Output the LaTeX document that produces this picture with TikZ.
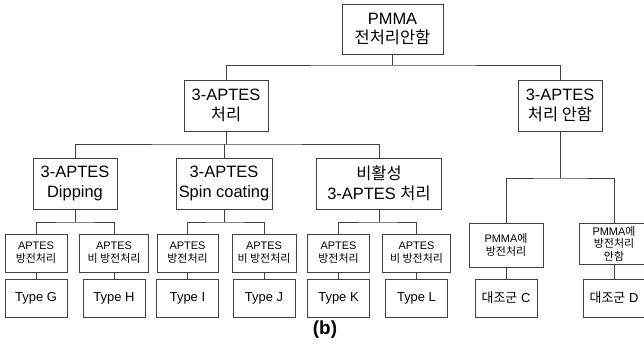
\documentclass[tikz,border=0pt]{standalone}
\usepackage{fontspec}
\setmainfont{Liberation Sans}
\newfontfamily\kr{Noto Sans CJK KR}
\usetikzlibrary{positioning}
\definecolor{linegray}{HTML}{404040}

\begin{document}
\begin{tikzpicture}[x=1bp, y=-1bp,
    box/.style={draw=linegray, line width=0.8bp, inner sep=0pt, align=center,
                minimum height=51bp, font=\fontsize{16.5}{20}\selectfont},
    smallbox/.style={draw=linegray, line width=0.8bp, inner sep=0pt, align=center,
                minimum height=38bp, font=\fontsize{11}{13}\selectfont},
    typebox/.style={draw=linegray, line width=0.8bp, inner sep=0pt, align=center,
                minimum width=62bp, minimum height=38bp, font=\fontsize{13}{15}\selectfont},
    link/.style={draw=linegray, line width=0.8bp}]
    \useasboundingbox (0,0) rectangle (644,347);

    % Root
    \node[box, minimum width=101bp, minimum height=50bp] (root) at (392.5,29) {PMMA\\{\kr 전처리안함}};

    % Level 1
    \node[box, minimum width=84bp] (apt) at (226,105.5) {3-APTES\\{\kr 처리}};
    \node[box, minimum width=84bp] (noapt) at (560,105.5) {3-APTES\\{\kr 처리 안함}};

    % Level 2
    \node[box, minimum width=84bp] (dip) at (75,183.5) {3-APTES\\Dipping};
    \node[box, minimum width=96bp] (spin) at (224,183.5) {3-APTES\\Spin coating};
    \node[box, minimum width=125bp] (inact) at (379,183.5) {{\kr 비활성}\\3-APTES {\kr 처리}};

    % Level 3 - discharge / no discharge
    \node[smallbox, minimum width=62bp] (dipA) at (36,253) {APTES\\{\kr 방전처리}};
    \node[smallbox, minimum width=69bp] (dipB) at (114,253) {APTES\\{\kr 비 방전처리}};
    \node[smallbox, minimum width=61bp] (spinA) at (187.5,253) {APTES\\{\kr 방전처리}};
    \node[smallbox, minimum width=64bp] (spinB) at (264,253) {APTES\\{\kr 비 방전처리}};
    \node[smallbox, minimum width=62bp] (inA) at (338.5,253) {APTES\\{\kr 방전처리}};
    \node[smallbox, minimum width=68bp] (inB) at (416.5,253) {APTES\\{\kr 비 방전처리}};
    \node[smallbox, minimum width=74bp, minimum height=44bp] (ctlA) at (506,245) {PMMA{\kr 에}\\{\kr 방전처리}};
    \node[smallbox, minimum width=70bp, minimum height=41bp, font=\fontsize{11}{12.5}\selectfont] (ctlB) at (614,243.5) {PMMA{\kr 에}\\{\kr 방전처리}\\{\kr 안함}};

    % Level 4 - samples
    \node[typebox] (tG) at (36,298) {Type G};
    \node[typebox] (tH) at (114,298) {Type H};
    \node[typebox] (tI) at (187.5,298) {Type I};
    \node[typebox] (tJ) at (264,298) {Type J};
    \node[typebox] (tK) at (338.5,298) {Type K};
    \node[typebox] (tL) at (416.5,298) {Type L};
    \node[typebox] (cC) at (506,298) {{\kr 대조군} C};
    \node[typebox] (cD) at (614,298) {{\kr 대조군} D};

    % Caption
    \node[font=\bfseries\fontsize{19}{22}\selectfont] (cap) at (325,330) {(b)};

    % Buses
    \coordinate (b0) at (392.5,65);
    \coordinate (b1) at (226,144);
    \coordinate (b2) at (560,178);
    \coordinate (bdip) at (75,222);
    \coordinate (bspin) at (224,222);
    \coordinate (binact) at (379,222);

    \draw[link] (root.south) -- (b0);
    \draw[link] (apt.north) |- (b0) -| (noapt.north);

    \draw[link] (apt.south) -- (b1);
    \draw[link] (dip.north) |- (b1) -| (inact.north);
    \draw[link] (spin.north) -- (spin.north |- b1);

    \draw[link] (noapt.south) -- (b2);
    \draw[link] (ctlA.north) |- (b2) -| (ctlB.north);

    \draw[link] (dip.south) -- (bdip);
    \draw[link] (dipA.north) |- (bdip) -| (dipB.north);
    \draw[link] (spin.south) -- (bspin);
    \draw[link] (spinA.north) |- (bspin) -| (spinB.north);
    \draw[link] (inact.south) -- (binact);
    \draw[link] (inA.north) |- (binact) -| (inB.north);

    % Straight links to samples
    \foreach \a/\b in {dipA/tG, dipB/tH, spinA/tI, spinB/tJ, inA/tK, inB/tL, ctlA/cC, ctlB/cD}
        \draw[link] (\a) -- (\b);
\end{tikzpicture}
\end{document}
